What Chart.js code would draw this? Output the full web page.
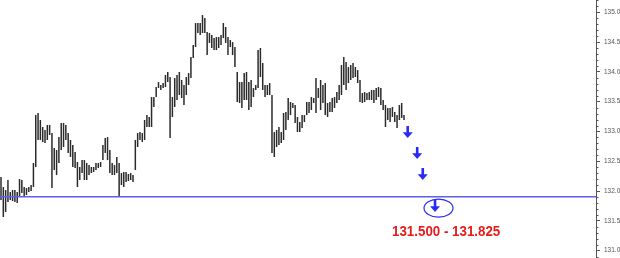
<!DOCTYPE html>
<html><head><meta charset="utf-8">
<script src="https://cdn.jsdelivr.net/npm/chart.js@4.4.1/dist/chart.umd.min.js"></script>
<style>html,body{margin:0;padding:0;background:#fff;overflow:hidden}canvas{display:block}</style>
</head><body>
<canvas id="c" width="620" height="258"></canvas>
<script>
const highs = [
132.236,132.068,132.018,132.186,131.984,132.018,132.018,131.984,132.203,132.186,
132.068,132.052,132.068,132.102,132.471,133.276,133.310,133.193,133.075,133.025,
133.109,133.109,132.974,132.723,132.689,132.907,133.142,133.142,133.109,132.974,
132.857,132.773,132.656,132.488,132.404,132.521,132.521,132.471,132.437,132.404,
132.404,132.471,132.471,132.488,132.773,132.890,132.907,132.689,132.471,132.437,
132.572,132.471,132.303,132.320,132.320,132.287,132.303,132.270,132.857,132.974,
132.991,132.974,133.193,133.276,133.243,133.578,133.578,133.746,133.830,133.780,
133.813,133.948,133.998,133.914,133.578,133.897,133.948,133.998,133.864,133.780,
133.914,133.981,134.250,134.451,134.820,134.820,134.820,134.954,134.904,134.669,
134.652,134.619,134.568,134.585,134.585,134.619,134.820,134.753,134.585,134.535,
134.501,134.417,133.998,133.830,133.830,133.981,133.998,133.830,133.864,133.729,
133.780,134.367,134.401,134.149,133.780,133.780,133.813,133.612,132.991,133.025,
133.075,132.991,133.310,133.327,133.562,133.495,133.478,133.444,133.243,133.159,
133.276,133.276,133.495,133.495,133.578,133.562,133.897,133.729,133.864,133.780,
133.813,133.478,133.495,133.562,133.578,133.662,133.780,134.115,134.250,134.166,
134.082,134.115,134.149,134.082,134.031,133.864,133.646,133.662,133.646,133.662,
133.696,133.696,133.729,133.746,133.729,133.528,133.444,133.394,133.394,133.411,
133.327,133.276,133.444,133.478,133.276];
const lows = [
131.850,131.565,131.649,131.817,131.850,131.833,131.817,131.800,131.901,131.968,
131.901,131.934,131.984,132.001,132.068,132.404,132.857,132.857,132.823,132.807,
132.857,132.941,132.052,132.354,132.270,132.471,132.689,132.740,132.857,132.639,
132.572,132.404,132.387,132.068,132.186,132.303,132.186,132.186,132.270,132.303,
132.320,132.354,132.387,132.404,132.521,132.639,132.521,132.303,132.270,132.270,
132.303,131.901,132.102,132.068,132.152,132.169,132.186,132.152,132.354,132.740,
132.857,132.823,132.857,133.075,133.075,133.075,133.411,133.578,133.729,133.696,
133.729,133.746,133.830,132.890,133.243,133.411,133.528,133.612,133.562,133.444,
133.612,133.780,133.897,134.233,134.417,134.652,134.619,134.652,134.652,134.283,
134.485,134.401,134.367,134.367,134.401,134.451,134.568,134.485,134.283,134.417,
134.283,134.082,133.495,133.478,133.394,133.528,133.528,133.360,133.411,133.578,
133.696,133.729,133.914,133.696,133.578,133.612,133.612,132.639,132.572,132.740,
132.773,132.807,132.857,133.025,133.193,133.276,133.394,133.142,132.991,132.991,
133.058,133.159,133.276,133.310,133.360,133.478,133.310,133.562,133.360,133.478,
133.276,133.243,133.327,133.327,133.394,133.478,133.528,133.612,133.780,133.696,
133.813,133.864,133.897,133.914,133.813,133.495,133.478,133.495,133.528,133.528,
133.528,133.478,133.528,133.578,133.444,133.360,133.075,133.193,133.159,133.243,
133.159,133.058,133.193,133.226,133.193];
const yTicks = [131.0,131.5,132.0,132.5,133.0,133.5,134.0,134.5,135.0];
const levelPrice = 131.906;
const arrowTips = [{x:175.6,y:132.890},{x:179.7,y:132.538},{x:182.1,y:132.186},{x:187.4,y:131.649}];
const targetMark = {x:188.9,y:131.716};
const targetLabel = '131.500 - 131.825';
const labelPos = {x:192.2,y:131.322};

const X_MIN = -0.432, X_MAX = 256.9;
const BLUE = '#2a2af5';

const barData = highs.map((h, i) => ({x: i, y: [lows[i], h]}));

const overlay = {
  id: 'overlay',
  afterDraw(chart) {
    const {ctx, chartArea, scales: {x, y}} = chart;
    ctx.save();
    ctx.strokeStyle = '#555';
    ctx.lineWidth = 1;
    const r = chartArea.right;
    for (let k = 1309; k <= 1352; k++) {
      if (k % 5 === 0) continue;
      const py = Math.round(y.getPixelForValue(k / 10)) + 0.5;
      ctx.beginPath(); ctx.moveTo(r, py); ctx.lineTo(r + 2.5, py); ctx.stroke();
    }
    ctx.fillStyle = BLUE;
    arrowTips.forEach(a => {
      const px = x.getPixelForValue(a.x), py = y.getPixelForValue(a.y);
      ctx.fillRect(px - 1.3, py - 12, 2.6, 7.5);
      ctx.beginPath();
      ctx.moveTo(px - 5, py - 5.8); ctx.lineTo(px + 5, py - 5.8); ctx.lineTo(px, py);
      ctx.closePath(); ctx.fill();
    });
    ctx.strokeStyle = BLUE;
    ctx.lineWidth = 1.2;
    ctx.beginPath();
    ctx.ellipse(x.getPixelForValue(targetMark.x), y.getPixelForValue(targetMark.y), 14.5, 9, 0, 0, Math.PI * 2);
    ctx.stroke();
    const lx = x.getPixelForValue(labelPos.x), ly = y.getPixelForValue(labelPos.y);
    ctx.translate(lx, ly);
    ctx.scale(0.86, 1);
    ctx.font = 'bold 15.5px "Liberation Sans", Arial, sans-serif';
    ctx.fillStyle = '#e51b1b';
    ctx.textAlign = 'center';
    ctx.textBaseline = 'middle';
    ctx.fillText(targetLabel, 0, 0);
    ctx.restore();
  }
};

new Chart(document.getElementById('c'), {
  type: 'bar',
  data: {
    datasets: [
      {
        type: 'line',
        data: [{x: X_MIN, y: levelPrice}, {x: X_MAX, y: levelPrice}],
        borderColor: 'rgb(95,95,238)',
        borderWidth: 1.5,
        pointRadius: 0,
        order: 0
      },
      {
        data: barData,
        backgroundColor: '#2b2b2b',
        borderWidth: 0,
        barThickness: 1.5,
        inflateAmount: 0,
        order: 1
      }
    ]
  },
  options: {
    responsive: false,
    animation: false,
    events: [],
    layout: {padding: 0},
    plugins: {legend: {display: false}, tooltip: {enabled: false}},
    scales: {
      x: {type: 'linear', min: X_MIN, max: X_MAX, display: false, offset: false},
      y: {
        position: 'right',
        min: 130.8775,
        max: 135.2064,
        afterBuildTicks: s => { s.ticks = yTicks.map(v => ({value: v})); },
        afterFit: s => { s.width = 24; s.paddingTop = 0; s.paddingBottom = 0; },
        border: {display: true, color: '#555', width: 1},
        grid: {drawOnChartArea: false, tickLength: 4, color: '#555'},
        ticks: {
          padding: 4,
          color: '#555',
          font: {family: 'Arial, "Liberation Sans", sans-serif', size: 6.5},
          callback: v => v.toFixed(1)
        }
      }
    }
  },
  plugins: [overlay]
});
</script>
</body></html>
